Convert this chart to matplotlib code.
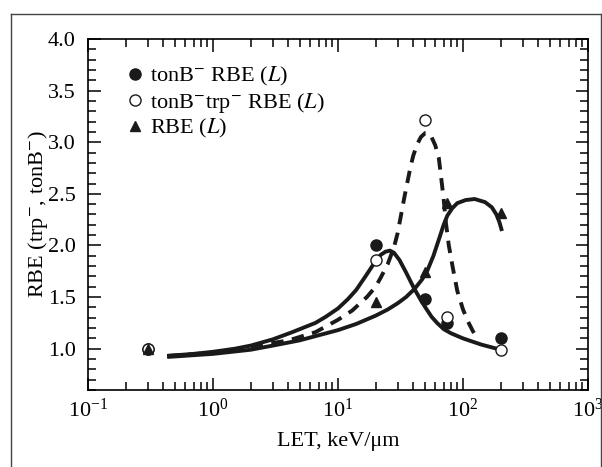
import numpy as np
import matplotlib
matplotlib.use('Agg')
import matplotlib.pyplot as plt
import matplotlib.ticker as mticker
from matplotlib.lines import Line2D

plt.rcParams.update({
    'font.family': 'Liberation Serif',
    'mathtext.fontset': 'stix',
    'axes.linewidth': 1.2,
})

# points mesures
let_pts = [0.3, 20, 50, 75, 200]
rbe_tonb = [1.0, 2.0, 1.48, 1.25, 1.1]
rbe_tonb_trp = [1.0, 1.86, 3.22, 1.31, 0.99]
rbe_l = [1.0, 1.45, 1.74, 2.41, 2.31]

# courbes d'ajustement
let_a = [0.43, 0.7, 1, 1.5, 2, 3, 4.3, 6.6, 8, 10, 12, 14, 17, 20, 22, 24, 26, 28, 31, 35, 40,
         45, 50, 56, 62, 70, 80, 100, 140, 200]
fit_a = [0.93, 0.95, 0.97, 1.0, 1.03, 1.09, 1.16, 1.25, 1.31, 1.39, 1.48, 1.57, 1.72, 1.85, 1.91,
         1.94, 1.95, 1.93, 1.86, 1.74, 1.60, 1.49, 1.40, 1.31, 1.25, 1.19, 1.15, 1.10, 1.04, 0.99]

let_d = [0.43, 1, 2, 4, 6.6, 10, 13, 17, 20, 22, 25, 28, 30, 32, 34, 36, 38, 40, 43, 46, 50, 53,
         56, 60, 64, 67, 70, 73, 77, 83, 90, 100, 110, 120, 130]
fit_d = [0.93, 0.96, 1.02, 1.08, 1.16, 1.28, 1.37, 1.50, 1.60, 1.69, 1.82, 1.98, 2.12, 2.30, 2.47,
         2.62, 2.76, 2.87, 2.98, 3.05, 3.09, 3.09, 3.05, 2.97, 2.85, 2.65, 2.45, 2.22, 2.00, 1.78,
         1.56, 1.38, 1.26, 1.17, 1.10]

let_b = [0.43, 1, 2, 3, 4.9, 7, 10, 14, 20, 25, 30, 35, 41, 47, 52, 58, 65, 70, 75, 82, 90, 105,
         124, 150, 170, 185, 195, 205]
fit_b = [0.92, 0.95, 0.99, 1.03, 1.08, 1.13, 1.18, 1.24, 1.32, 1.38, 1.44, 1.50, 1.58, 1.67, 1.76,
         1.90, 2.08, 2.20, 2.29, 2.36, 2.41, 2.44, 2.45, 2.42, 2.37, 2.30, 2.23, 2.14]

fig = plt.figure(figsize=(6.02, 4.67), dpi=100)
W, H = 602, 467
ax = fig.add_axes([88 / W, 77 / H, 500 / W, 351 / H])

# cadre exterieur
kw = dict(transform=fig.transFigure, color='#444444', lw=1)
fig.add_artist(Line2D([11 / W, 11 / W], [-0.1, 1 - 14 / H], **kw))
fig.add_artist(Line2D([11 / W, 601 / W], [1 - 14 / H, 1 - 14 / H], **kw))
fig.add_artist(Line2D([601 / W, 601 / W], [-0.1, 1 - 14 / H], **kw))

ax.plot(let_a, fit_a, color='#1a1a1a', lw=2.8, solid_capstyle='butt', solid_joinstyle='round')
ax.plot(let_d, fit_d, color='#1a1a1a', lw=2.8, dashes=(3.2, 2.2))
ax.plot(let_b, fit_b, color='#1a1a1a', lw=2.8, solid_capstyle='butt', solid_joinstyle='round')

ax.plot(let_pts, rbe_tonb, 'o', color='#1a1a1a', ms=8, ls='none',
        label=r'tonB$^{-}$ RBE ($L$)')
ax.plot(let_pts, rbe_tonb_trp, 'o', mfc='white', mec='#1a1a1a', mew=1.0, ms=8, ls='none',
        label=r'tonB$^{-}$trp$^{-}$ RBE ($L$)')
ax.plot(let_pts, rbe_l, '^', color='#1a1a1a', ms=7, ls='none',
        label=r'RBE ($L$)')

ax.set_xscale('log')
ax.set_xlim(0.1, 1000)
ax.set_ylim(0.6, 4.0)
ax.yaxis.set_major_locator(mticker.MultipleLocator(0.5))
ax.yaxis.set_minor_locator(mticker.MultipleLocator(0.1))
ax.yaxis.set_major_formatter(mticker.FuncFormatter(lambda v, _: f"{v:.1f}" if v >= 0.99 else ""))
ax.xaxis.set_minor_locator(mticker.LogLocator(base=10, subs=np.arange(2, 10), numticks=20))
ax.xaxis.set_minor_formatter(mticker.NullFormatter())

ax.tick_params(which='both', direction='in', top=True, right=True, labelsize=16, width=1.1)
ax.tick_params(which='major', length=9)
ax.tick_params(which='minor', length=6)
ax.tick_params(axis='y', pad=9)
ax.tick_params(axis='x', pad=6)

ax.set_xlabel('LET, keV/μm', fontsize=16)
ax.xaxis.set_label_coords(0.5, -0.148)
ax.xaxis.label.set_va('center')
ax.set_ylabel(r'RBE (trp$^{-}$, tonB$^{-}$)', fontsize=16)
ax.yaxis.set_label_coords(-0.1, 0.5)
ax.yaxis.label.set_va('center')

ax.legend(loc='upper left', bbox_to_anchor=(0.06, 0.95), frameon=False, fontsize=16,
          handlelength=0.7, handletextpad=0.35, labelspacing=0.1, borderaxespad=0)

plt.savefig('out.png', dpi=100)
